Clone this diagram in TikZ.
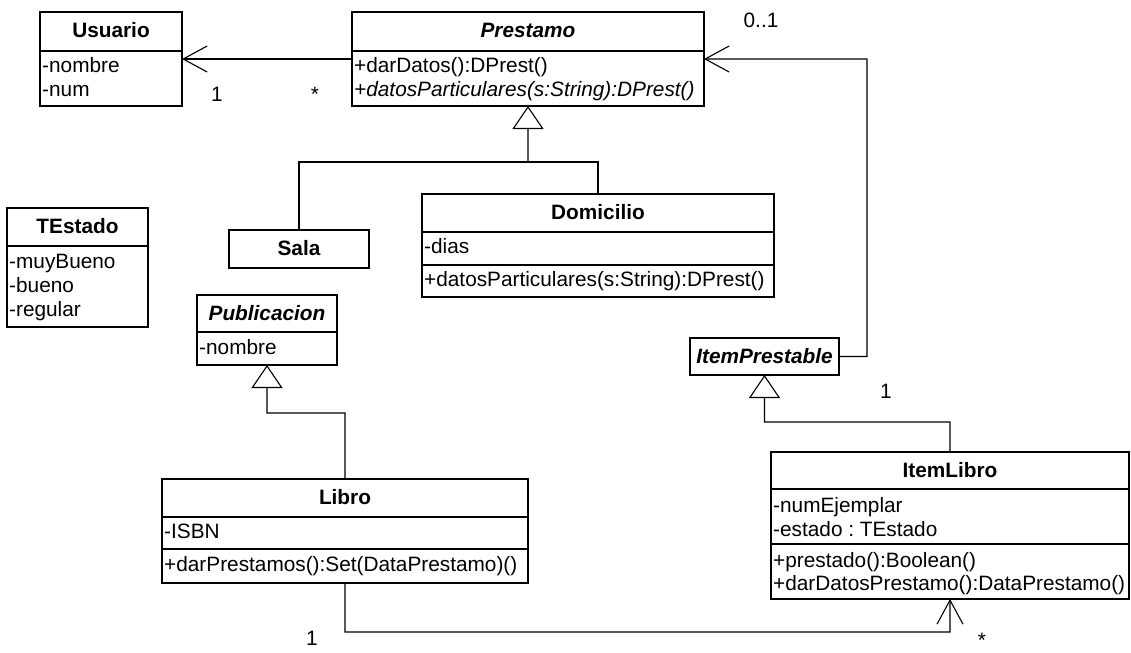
\documentclass[tikz,border=0pt]{standalone}
\usepackage{fontspec}
\setmainfont{Liberation Sans}
\usetikzlibrary{arrows.meta}
\newcommand\umlsize{\fontsize{20.8bp}{24.5bp}\selectfont\frenchspacing}
\begin{document}
\begin{tikzpicture}[x=1bp,y=-1bp,
  umlbox/.style={draw, line width=1.5bp, anchor=north west, inner sep=0pt, outer sep=0pt},
  divider/.style={line width=1.5bp},
  ctitle/.style={anchor=base, inner sep=0pt, font=\umlsize\bfseries},
  atitle/.style={anchor=base, inner sep=0pt, font=\umlsize\bfseries\itshape},
  member/.style={anchor=base west, inner sep=0pt, font=\umlsize},
  amember/.style={anchor=base west, inner sep=0pt, font=\umlsize\itshape},
  mult/.style={anchor=base, inner sep=0pt, font=\umlsize},
  assoc/.style={line width=1.1bp, -{Straight Barb[length=24bp, width=26bp]}},
  gen/.style={line width=1.1bp, -{Triangle[open, length=23bp, width=31bp]}},
  plain/.style={line width=1.1bp}]
\path[use as bounding box] (0,0) rectangle (1131,653);

% ---- Usuario
\node[umlbox, minimum width=142bp, minimum height=94bp] (usuario) at (40,12) {};
\draw[divider] (40,51) -- (182,51);
\node[ctitle] (usuarioT) at (111,38) {Usuario};
\node[member] (usuarioA1) at (42,73) {-nombre};
\node[member] (usuarioA2) at (42,97) {-num};

% ---- Prestamo (abstract)
\node[umlbox, minimum width=352bp, minimum height=94bp] (prestamo) at (352,12) {};
\draw[divider] (352,51) -- (704,51);
\node[atitle] (prestamoT) at (528,38) {Prestamo};
\node[member] (prestamoM1) at (354,73) {+darDatos():DPrest()};
\node[amember] (prestamoM2) at (354,97) {+datosParticulares(s:String):DPrest()};

% ---- TEstado
\node[umlbox, minimum width=141bp, minimum height=119bp] (testado) at (7,208) {};
\draw[divider] (7,246) -- (148,246);
\node[ctitle] (testadoT) at (77.5,233.5) {TEstado};
\node[member] (testadoA1) at (9,268) {-muyBueno};
\node[member] (testadoA2) at (9,292) {-bueno};
\node[member] (testadoA3) at (9,316) {-regular};

% ---- Sala
\node[umlbox, minimum width=140bp, minimum height=38bp] (sala) at (229,230) {};
\node[ctitle] (salaT) at (299,255.5) {Sala};

% ---- Domicilio
\node[umlbox, minimum width=352bp, minimum height=103bp] (domicilio) at (422,194) {};
\draw[divider] (422,232) -- (774,232);
\draw[divider] (422,265) -- (774,265);
\node[ctitle] (domicilioT) at (598,219.5) {Domicilio};
\node[member] (domicilioA1) at (424,253) {-dias};
\node[member] (domicilioM1) at (424,286) {+datosParticulares(s:String):DPrest()};

% ---- Publicacion (abstract)
\node[umlbox, minimum width=140bp, minimum height=70bp] (publicacion) at (197,295) {};
\draw[divider] (197,332) -- (337,332);
\node[atitle] (publicacionT) at (267,320) {Publicacion};
\node[member] (publicacionA1) at (199,354) {-nombre};

% ---- ItemPrestable (abstract)
\node[umlbox, minimum width=149bp, minimum height=37bp] (itemprestable) at (690,338) {};
\node[atitle] (itemprestableT) at (764.5,363) {ItemPrestable};

% ---- Libro
\node[umlbox, minimum width=366bp, minimum height=104bp] (libro) at (162,479) {};
\draw[divider] (162,517) -- (528,517);
\draw[divider] (162,549) -- (528,549);
\node[ctitle] (libroT) at (345,504.5) {Libro};
\node[member] (libroA1) at (164,538) {-ISBN};
\node[member] (libroM1) at (164,571) {+darPrestamos():Set(DataPrestamo)()};

% ---- ItemLibro
\node[umlbox, minimum width=358bp, minimum height=147bp] (itemlibro) at (771,452) {};
\draw[divider] (771,489) -- (1129,489);
\draw[divider] (771,544) -- (1129,544);
\node[ctitle] (itemlibroT) at (950,477) {ItemLibro};
\node[member] (itemlibroA1) at (773,512) {-numEjemplar};
\node[member] (itemlibroA2) at (773,536) {-estado : TEstado};
\node[member] (itemlibroM1) at (773,567) {+prestado():Boolean()};
\node[member] (itemlibroM2) at (773,590) {+darDatosPrestamo():DataPrestamo()};

% ---- Associations
\draw[assoc] ([yshift=-47bp]prestamo.north west) -- ([yshift=-47bp]usuario.north east);
\node[mult] (m1) at (217,102) {1};
\node[mult] (m2) at (315,102) {*};

\coordinate (ipTurn) at (867,356.5);
\draw[assoc] (itemprestable.east) -- (ipTurn) |- ([yshift=-47bp]prestamo.north east);
\node[mult] (m3) at (761,28) {0..1};
\node[mult] (m4) at (886,398) {1};

\coordinate (libTurn) at (345,632);
\draw[assoc] (libro.south) -- (libTurn) -| (itemlibro.south);
\node[mult] (m5) at (312,645) {1};
\node[mult] (m6) at (982,647) {*};

% ---- Generalizations
\coordinate (presJoin) at (528,162);
\draw[plain] (sala.north) |- (presJoin) -| (domicilio.north);
\draw[gen] (presJoin) -- (prestamo.south);

\coordinate (pubJoin) at (267,413);
\draw[gen] (libro.north) |- (pubJoin) -- (publicacion.south);

\coordinate (ipJoin) at (764.5,422);
\draw[gen] (itemlibro.north) |- (ipJoin) -- (itemprestable.south);
\end{tikzpicture}
\end{document}
